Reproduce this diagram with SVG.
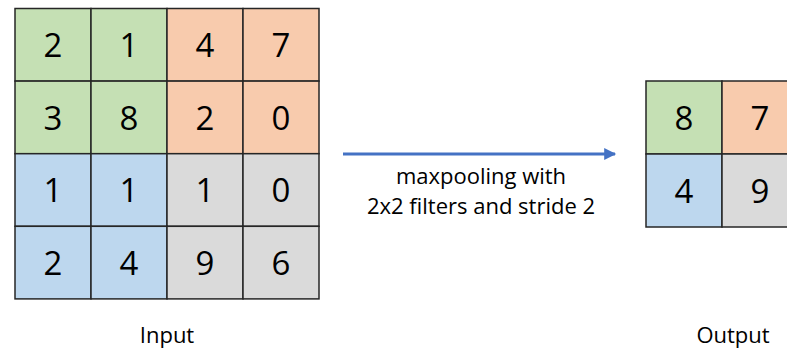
<svg xmlns="http://www.w3.org/2000/svg" width="787" height="351" viewBox="0 0 787 351">
  <defs>
    <style>
      .cell { stroke: #262626; stroke-width: 1.5; }
      .g { fill: #C5E0B4; }
      .o { fill: #F8CBAD; }
      .b { fill: #BDD7EE; }
      .y { fill: #DADADA; }
      .num { font-family: "Open Sans", "Noto Sans", sans-serif; font-size: 33px; fill: #000; text-anchor: middle; }
      .lbl { font-family: "Open Sans", "Noto Sans", sans-serif; font-size: 22px; fill: #000; text-anchor: middle; }
      .arrow { stroke: #4472C4; stroke-width: 3; fill: none; }
    </style>
    <marker id="head" viewBox="0 0 10 10" refX="9" refY="5" markerWidth="4.5" markerHeight="4" markerUnits="strokeWidth" orient="auto">
      <path d="M0,0 L10,5 L0,10 Z" fill="#4472C4"/>
    </marker>
  </defs>

  <!-- 4x4 input grid -->
  <g id="input">
    <rect class="cell g" x="15" y="8.5" width="76" height="72.6"/>
    <rect class="cell g" x="91" y="8.5" width="76" height="72.6"/>
    <rect class="cell o" x="167" y="8.5" width="76" height="72.6"/>
    <rect class="cell o" x="243" y="8.5" width="76" height="72.6"/>
    <rect class="cell g" x="15" y="81.1" width="76" height="72.6"/>
    <rect class="cell g" x="91" y="81.1" width="76" height="72.6"/>
    <rect class="cell o" x="167" y="81.1" width="76" height="72.6"/>
    <rect class="cell o" x="243" y="81.1" width="76" height="72.6"/>
    <rect class="cell b" x="15" y="153.7" width="76" height="72.6"/>
    <rect class="cell b" x="91" y="153.7" width="76" height="72.6"/>
    <rect class="cell y" x="167" y="153.7" width="76" height="72.6"/>
    <rect class="cell y" x="243" y="153.7" width="76" height="72.6"/>
    <rect class="cell b" x="15" y="226.3" width="76" height="72.6"/>
    <rect class="cell b" x="91" y="226.3" width="76" height="72.6"/>
    <rect class="cell y" x="167" y="226.3" width="76" height="72.6"/>
    <rect class="cell y" x="243" y="226.3" width="76" height="72.6"/>

    <text class="num" x="53" y="57">2</text>
    <text class="num" x="129" y="57">1</text>
    <text class="num" x="205" y="57">4</text>
    <text class="num" x="281" y="57">7</text>
    <text class="num" x="53" y="129.5">3</text>
    <text class="num" x="129" y="129.5">8</text>
    <text class="num" x="205" y="129.5">2</text>
    <text class="num" x="281" y="129.5">0</text>
    <text class="num" x="53" y="202">1</text>
    <text class="num" x="129" y="202">1</text>
    <text class="num" x="205" y="202">1</text>
    <text class="num" x="281" y="202">0</text>
    <text class="num" x="53" y="275">2</text>
    <text class="num" x="129" y="275">4</text>
    <text class="num" x="205" y="275">9</text>
    <text class="num" x="281" y="275">6</text>
  </g>

  <!-- 2x2 output grid -->
  <g id="output">
    <rect class="cell g" x="646" y="81" width="76" height="73"/>
    <rect class="cell o" x="722" y="81" width="76" height="73"/>
    <rect class="cell b" x="646" y="154" width="76" height="73"/>
    <rect class="cell y" x="722" y="154" width="76" height="73"/>
    <text class="num" x="684" y="129.5">8</text>
    <text class="num" x="760" y="129.5">7</text>
    <text class="num" x="684" y="202.5">4</text>
    <text class="num" x="760" y="202.5">9</text>
  </g>

  <!-- connector -->
  <g id="connectors">
    <line class="arrow" x1="343" y1="154" x2="615" y2="154" marker-end="url(#head)"/>
    <text class="lbl" x="481" y="184">maxpooling with</text>
    <text class="lbl" x="481" y="214">2x2 filters and stride 2</text>
  </g>

  <!-- captions -->
  <g id="captions">
    <text class="lbl" x="167" y="343">Input</text>
    <text class="lbl" x="733" y="343">Output</text>
  </g>
</svg>
